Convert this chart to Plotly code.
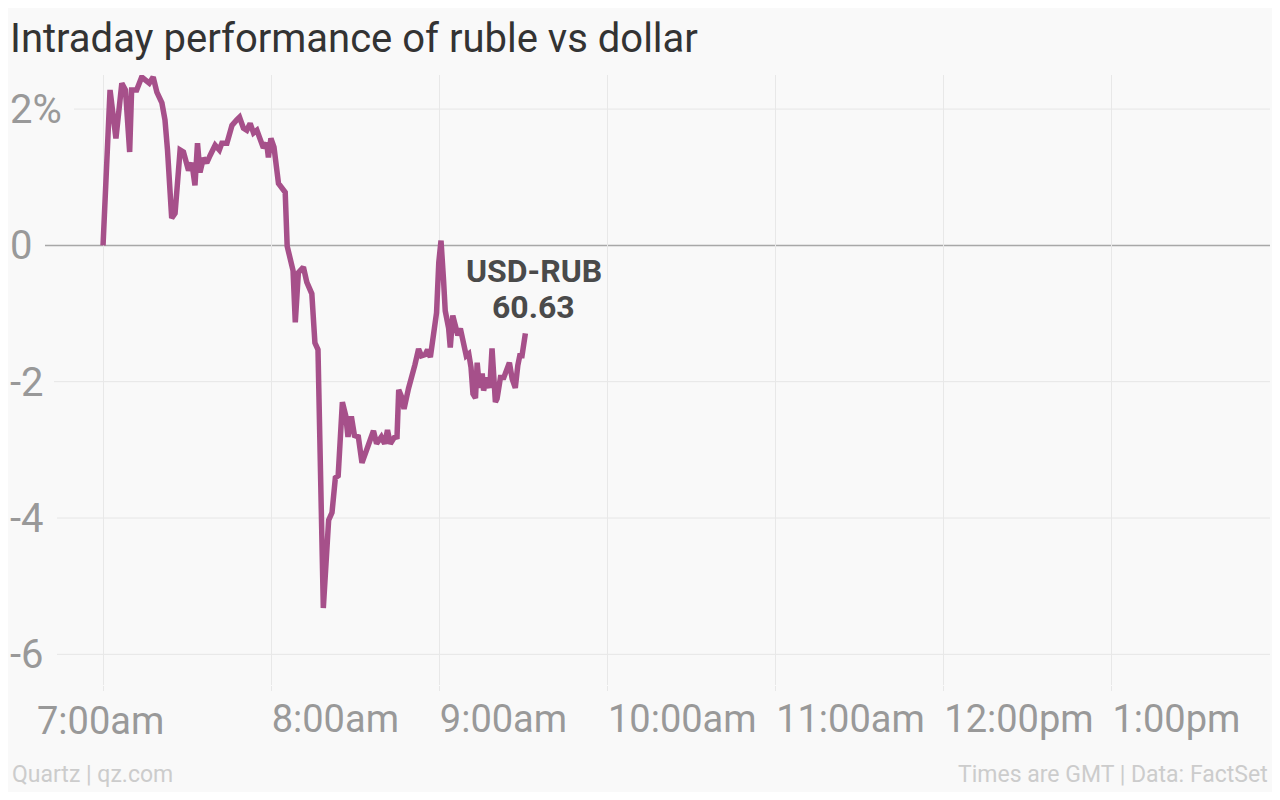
import pandas as pd
import plotly.graph_objects as go

# ---- data -------------------------------------------------------------
session_date = "2014-12-10"
open_time = "07:00"
# minutes after 7:00 GMT
minutes_after_open = [
    0.0, 2.5, 4.6, 6.7, 8.0, 9.5, 10.2, 12.0, 13.8, 15.0, 16.5, 17.9, 19.2, 21.0,
    22.1, 23.0, 24.5, 25.7, 27.5, 28.7, 30.5, 31.7, 32.8, 33.7, 34.6, 35.8, 37.0,
    38.2, 40.0, 41.5, 42.4, 44.2, 46.0, 47.7, 48.7, 50.1, 51.3, 52.5, 53.7, 54.9,
    56.0, 57.2, 58.4, 59.0, 59.9, 61.0, 62.6, 63.8, 65.0, 65.7, 67.0, 67.8, 68.6,
    69.7, 71.5, 72.7, 74.5, 75.6, 76.7, 78.6, 80.5, 81.7, 82.9, 83.9, 85.4, 86.6,
    87.4, 88.6, 89.7, 91.1, 92.4, 93.9, 95.4, 96.5, 97.6, 99.3, 100.5, 101.5,
    102.5, 103.9, 104.9, 105.5, 106.7, 107.4, 109.0, 110.2, 111.3, 112.6, 113.6,
    115.0, 115.8, 116.8, 118.0, 119.0, 119.8, 120.6, 121.5, 122.1, 123.3, 123.9,
    124.8, 125.7, 126.6, 127.5, 128.7, 129.6, 130.5, 131.3, 132.0, 132.9, 133.5,
    134.3, 135.3, 135.8, 136.8, 138.0, 138.8, 139.4, 140.0, 140.6, 141.8, 143.0,
    144.2, 145.0, 146.0, 147.1, 148.0, 148.7, 149.5, 150.1, 150.7,
]
# % change of ruble vs dollar since 7:00
pct_change = [
    0.00, 2.28, 1.57, 2.38, 2.28, 1.37, 2.28, 2.28, 2.47, 2.43, 2.38, 2.47, 2.25, 2.09,
    1.84, 1.40, 0.40, 0.47, 1.40, 1.37, 1.10, 1.21, 0.88, 1.50, 1.07, 1.28, 1.21,
    1.32, 1.47, 1.40, 1.50, 1.50, 1.76, 1.84, 1.88, 1.72, 1.69, 1.79, 1.65, 1.69,
    1.54, 1.43, 1.50, 1.29, 1.57, 1.44, 0.91, 0.85, 0.78, -0.01, -0.19, -0.37, -1.13,
    -0.40, -0.32, -0.54, -0.71, -1.43, -1.53, -5.32, -4.03, -3.92, -3.41, -3.38, -2.30, -2.50,
    -2.81, -2.51, -2.79, -2.81, -3.19, -3.01, -2.84, -2.72, -2.91, -2.81, -2.91, -2.71,
    -2.91, -2.82, -2.81, -2.12, -2.24, -2.40, -2.10, -1.87, -1.75, -1.52, -1.62,
    -1.60, -1.53, -1.64, -1.29, -0.99, -0.25, 0.07, -0.51, -0.96, -1.21, -1.50,
    -1.03, -1.15, -1.32, -1.22, -1.50, -1.62, -1.59, -1.79, -2.18, -2.24, -1.72,
    -2.09, -1.88, -2.13, -1.94, -2.09, -1.51, -1.94, -2.30, -2.25, -1.94, -1.94,
    -1.79, -1.72, -1.96, -2.09, -1.76, -1.62, -1.62, -1.47, -1.29,
]
series_name = "USD-RUB"
last_rate = "60.63"

x_tick_hours = ["07:00", "08:00", "09:00", "10:00", "11:00", "12:00", "13:00"]
x_tick_labels = ["7:00am", "8:00am", "9:00am", "10:00am", "11:00am", "12:00pm", "1:00pm"]
y_tick_values = [-6, -4, -2, 0, 2]
y_tick_labels = ["-6", "-4", "-2", "0", "2%"]

title_text = "Intraday performance of ruble vs dollar"
source_left = "Quartz | qz.com"
source_right = "Times are GMT | Data: FactSet"

# ---- build ------------------------------------------------------------
base = pd.Timestamp(f"{session_date} {open_time}")
times = [base + pd.Timedelta(minutes=m) for m in minutes_after_open]
tickvals = [pd.Timestamp(f"{session_date} {h}") for h in x_tick_hours]

# page body has an 8px margin, so the figure is 16px smaller than the window
W, H = 1264, 784
ML, MR, MT, MB = 2, 2, 67, 107
plot_w = W - ML - MR
plot_h = H - MT - MB
BG = "#f9f9f9"
LINE = "#a6508a"
FONT = "Roboto, Open Sans, sans-serif"
TICK_FONT = dict(family=FONT, size=38, color="#999999")

fig = go.Figure()
fig.add_trace(go.Scatter(
    x=times, y=pct_change, mode="lines",
    line=dict(color=LINE, width=5.5),
    hoverinfo="skip", showlegend=False,
))

x_start = pd.Timestamp(f"{session_date} 06:26:48")
x_end = pd.Timestamp(f"{session_date} 13:56:24")

# horizontal gridlines start just after each label (figure pixel positions)
grid_start_px = {2: 66, 0: 37, -2: 46, -4: 49, -6: 49}
shapes = []
for v in y_tick_values:
    x0 = (grid_start_px[v] - ML) / plot_w
    shapes.append(dict(
        type="line", xref="paper", yref="y", x0=x0, x1=1, y0=v, y1=v,
        line=dict(color="#a8a8a8" if v == 0 else "#e6e6e6", width=1.5 if v == 0 else 1),
        layer="below",
    ))

plot_bottom = H - MB
foot_y = -(766 - plot_bottom) / plot_h
first_label_y = -(713 - plot_bottom) / plot_h

# first hour label is centred on its tick, the rest start at their tick
ticktext = [""] + x_tick_labels[1:]

fig.update_layout(
    width=W, height=H,
    margin=dict(l=ML, r=MR, t=MT, b=MB),
    paper_bgcolor=BG, plot_bgcolor=BG,
    font=dict(family=FONT, color="#999999"),
    title=dict(text=title_text, x=2 / W, xref="container", xanchor="left",
               y=0.98, yanchor="top",
               font=dict(family=FONT, size=40, color="#333333")),
    shapes=shapes,
    xaxis=dict(
        type="date", range=[x_start, x_end],
        tickvals=tickvals, ticktext=ticktext,
        showgrid=True, gridcolor="#e8e8e8", gridwidth=1,
        ticks="outside", ticklen=5, tickcolor="#e8e8e8",
        ticklabelposition="outside right", ticklabelstandoff=0,
        tickfont=TICK_FONT,
        zeroline=False, showline=False,
    ),
    yaxis=dict(
        range=[-6.45, 2.5],
        tickvals=y_tick_values, ticktext=y_tick_labels,
        ticklabelposition="inside", ticklabelstandoff=-3,
        showgrid=False, zeroline=False,
        showline=False, ticks="",
        tickfont=dict(family=FONT, size=40, color="#999999"),
    ),
    annotations=[
        dict(x=tickvals[0], y=first_label_y, xref="x", yref="paper",
             text=x_tick_labels[0], showarrow=False,
             xanchor="center", yanchor="middle", xshift=-3,
             font=TICK_FONT),
        dict(x=times[-1], y=pct_change[-1], xref="x", yref="y",
             text=f"<b>{series_name}</b>",
             showarrow=False, xanchor="center", yanchor="middle",
             xshift=9, yshift=62,
             font=dict(family=FONT, size=32, color="#4a4a4a")),
        dict(x=times[-1], y=pct_change[-1], xref="x", yref="y",
             text=f"<b>{last_rate}</b>",
             showarrow=False, xanchor="center", yanchor="middle",
             xshift=8, yshift=26,
             font=dict(family=FONT, size=32, color="#4a4a4a")),
        dict(x=0, y=foot_y, xref="paper", yref="paper",
             text=source_left, showarrow=False, xanchor="left", yanchor="middle",
             font=dict(family=FONT, size=23, color="#cccccc")),
        dict(x=1, y=foot_y, xref="paper", yref="paper",
             text=source_right, showarrow=False, xanchor="right", yanchor="middle",
             font=dict(family=FONT, size=23, color="#cccccc")),
    ],
)

fig.write_html("out.html")
